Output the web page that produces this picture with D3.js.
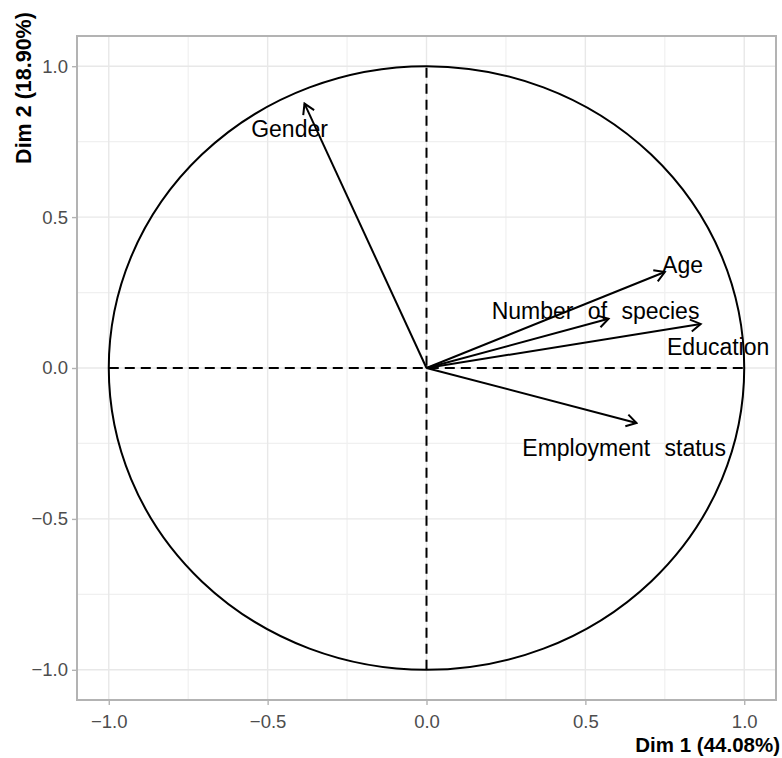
<!DOCTYPE html>
<html>
<head>
<meta charset="utf-8">
<script src="https://cdn.jsdelivr.net/npm/d3@7"></script>
<style>
  html, body { margin: 0; padding: 0; background: #fff; }
  svg { display: block; }
  text { font-family: "Liberation Sans", Arial, sans-serif; }
</style>
</head>
<body>
<svg id="chart" width="782" height="758"></svg>
<script>
// ---- data ----
const variables = ["Gender", "Age", "Number of species", "Education", "Employment status"];
const dim1 = [-0.384, 0.750, 0.573, 0.863, 0.661];
const dim2 = [0.876, 0.318, 0.163, 0.146, -0.182];
const labelDim1 = [-0.431, 0.806, 0.532, 0.918, 0.622];
const labelDim2 = [0.793, 0.342, 0.189, 0.070, -0.265];
const majorTicks = [-1.0, -0.5, 0.0, 0.5, 1.0];
const minorTicks = [-0.75, -0.25, 0.25, 0.75];
const xTitle = "Dim 1 (44.08%)";
const yTitle = "Dim 2 (18.90%)";

// ---- layout ----
const svg = d3.select("#chart");
const pLeft = 77, pRight = 776, pTop = 36, pBottom = 700;
const x = d3.scaleLinear().domain([-1.1, 1.1]).range([pLeft, pRight]);
const y = d3.scaleLinear().domain([-1.1, 1.1]).range([pBottom, pTop]);

const grid = svg.append("g");
const gridColor = "#e8e8e8";
grid.selectAll("line.vmin").data(minorTicks).join("line")
  .attr("x1", d => x(d)).attr("x2", d => x(d)).attr("y1", pTop).attr("y2", pBottom)
  .attr("stroke", "#f0f0f0").attr("stroke-width", 1.2);
grid.selectAll("line.hmin").data(minorTicks).join("line")
  .attr("y1", d => y(d)).attr("y2", d => y(d)).attr("x1", pLeft).attr("x2", pRight)
  .attr("stroke", "#f0f0f0").attr("stroke-width", 1.2);
grid.selectAll("line.vmaj").data(majorTicks).join("line")
  .attr("x1", d => x(d)).attr("x2", d => x(d)).attr("y1", pTop).attr("y2", pBottom)
  .attr("stroke", gridColor).attr("stroke-width", 1.4);
grid.selectAll("line.hmaj").data(majorTicks).join("line")
  .attr("y1", d => y(d)).attr("y2", d => y(d)).attr("x1", pLeft).attr("x2", pRight)
  .attr("stroke", gridColor).attr("stroke-width", 1.4);

// axes
const fmt = d3.format(".1f");
const xAxis = svg.append("g").attr("transform", `translate(0,${pBottom})`)
  .call(d3.axisBottom(x).tickValues(majorTicks).tickFormat(fmt).tickSize(5).tickPadding(10));
const yAxis = svg.append("g").attr("transform", `translate(${pLeft},0)`)
  .call(d3.axisLeft(y).tickValues(majorTicks).tickFormat(fmt).tickSize(5).tickPadding(4));
[xAxis, yAxis].forEach(g => {
  g.select(".domain").remove();
  g.selectAll(".tick line").attr("stroke", "#b3b3b3").attr("stroke-width", 1.4);
  g.selectAll(".tick text").attr("fill", "#4d4d4d")
    .style("font-size", "18.5px").style("font-family", "'Liberation Sans', Arial, sans-serif");
});

// panel border
svg.append("rect").attr("x", pLeft).attr("y", pTop)
  .attr("width", pRight - pLeft).attr("height", pBottom - pTop)
  .attr("fill", "none").attr("stroke", "#b3b3b3").attr("stroke-width", 2);

// dashed reference lines
svg.append("line").attr("x1", x(-1)).attr("x2", x(1)).attr("y1", y(0)).attr("y2", y(0))
  .attr("stroke", "#000").attr("stroke-width", 2).attr("stroke-dasharray", "10,6");
svg.append("line").attr("x1", x(0)).attr("x2", x(0)).attr("y1", y(-1)).attr("y2", y(1))
  .attr("stroke", "#000").attr("stroke-width", 2).attr("stroke-dasharray", "10,6");

// correlation circle
svg.append("ellipse").attr("cx", x(0)).attr("cy", y(0))
  .attr("rx", x(1) - x(0)).attr("ry", y(0) - y(1))
  .attr("fill", "none").attr("stroke", "#000").attr("stroke-width", 2);

// arrow marker
svg.append("defs").append("marker")
  .attr("id", "arr").attr("markerUnits", "userSpaceOnUse")
  .attr("viewBox", "-14 -9 16 18").attr("refX", 0).attr("refY", 0)
  .attr("markerWidth", 16).attr("markerHeight", 18).attr("orient", "auto")
  .append("path").attr("d", "M-10,-6 L0,0 L-10,6")
  .attr("fill", "none").attr("stroke", "#000").attr("stroke-width", 2)
  .attr("stroke-linejoin", "miter");

const idx = d3.range(variables.length);
svg.append("g").selectAll("line").data(idx).join("line")
  .attr("x1", x(0)).attr("y1", y(0))
  .attr("x2", i => x(dim1[i])).attr("y2", i => y(dim2[i]))
  .attr("stroke", "#000").attr("stroke-width", 2)
  .attr("marker-end", "url(#arr)");

svg.append("g").selectAll("text").data(idx).join("text")
  .attr("x", i => x(labelDim1[i])).attr("y", i => y(labelDim2[i]))
  .attr("text-anchor", "middle").attr("dy", "0.36em")
  .style("font-size", "23px").style("word-spacing", "8px")
  .attr("fill", "#000")
  .text(i => variables[i]);

// axis titles
svg.append("text").attr("x", 780).attr("y", 752).attr("text-anchor", "end")
  .style("font-size", "20.5px").style("font-weight", "bold").text(xTitle);
svg.append("text").attr("transform", "translate(31,88) rotate(-90)")
  .attr("text-anchor", "middle")
  .style("font-size", "21.5px").style("font-weight", "bold").text(yTitle);
</script>
</body>
</html>
